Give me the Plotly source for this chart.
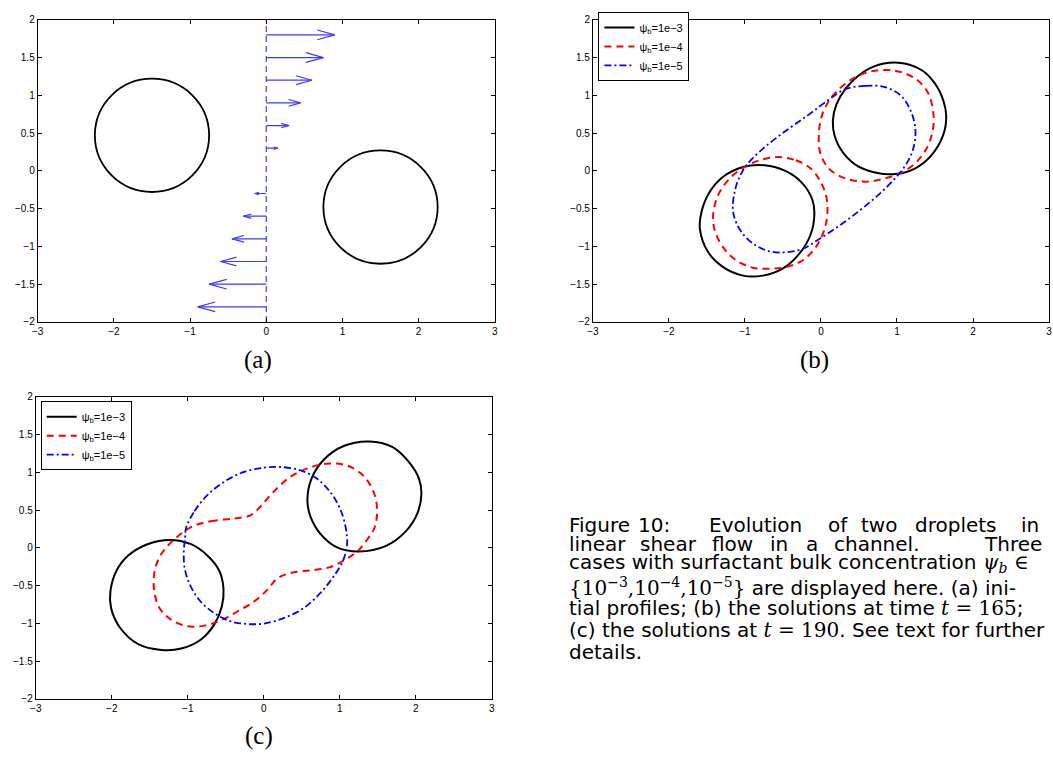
import plotly.graph_objects as go

W, H = 1053, 761

# ---------------- data ----------------
# (a) initial droplets (circles): centres and radii
a_cx = [-1.5, 1.5]
a_cy = [0.47, -0.48]
a_r = [0.75, 0.75]
# (a) linear shear velocity profile (quiver): heights and velocities
q_y = [1.8, 1.5, 1.2, 0.9, 0.6, 0.3, -0.3, -0.6, -0.9, -1.2, -1.5, -1.8]
q_u = [0.9, 0.75, 0.6, 0.45, 0.3, 0.15, -0.15, -0.3, -0.45, -0.6, -0.75, -0.9]

series_names = ["ψ<sub>b</sub>=1e−3", "ψ<sub>b</sub>=1e−4", "ψ<sub>b</sub>=1e−5"]

# (b) t = 165 : psi_b = 1e-3 (two droplets)
b1_up_x = [1.017, 1.322, 1.496, 1.610, 1.648, 1.610, 1.452, 1.235, 0.974, 0.713, 0.452, 0.256, 0.161, 0.170, 0.256, 0.430, 0.691]
b1_up_y = [1.431, 1.335, 1.161, 0.930, 0.726, 0.480, 0.205, 0.031, -0.043, -0.021, 0.083, 0.292, 0.553, 0.770, 0.987, 1.205, 1.379]
b1_lo_x = [-0.744, -0.461, -0.244, -0.113, -0.087, -0.135, -0.287, -0.505, -0.765, -1.026, -1.287, -1.483, -1.592, -1.570, -1.461, -1.287, -1.026]
b1_lo_y = [0.074, -0.004, -0.165, -0.382, -0.578, -0.839, -1.100, -1.295, -1.387, -1.387, -1.274, -1.078, -0.774, -0.535, -0.274, -0.078, 0.052]
# (b) psi_b = 1e-4 (two droplets)
b2_up_x = [0.713, 0.974, 1.235, 1.409, 1.482, 1.465, 1.387, 1.235, 1.061, 0.843, 0.583, 0.322, 0.104, -0.013, -0.026, 0.017, 0.148, 0.343, 0.517]
b2_up_y = [1.326, 1.326, 1.226, 1.031, 0.726, 0.509, 0.292, 0.096, -0.021, -0.100, -0.143, -0.100, 0.031, 0.248, 0.509, 0.748, 0.987, 1.170, 1.270]
b2_lo_x = [-0.570, -0.331, -0.135, -0.005, 0.074, 0.083, 0.039, -0.070, -0.244, -0.461, -0.678, -0.896, -1.113, -1.287, -1.396, -1.418, -1.352, -1.200, -1.004, -0.809]
b2_lo_y = [0.183, 0.140, 0.031, -0.143, -0.361, -0.578, -0.795, -1.013, -1.187, -1.274, -1.295, -1.282, -1.187, -1.013, -0.795, -0.578, -0.317, -0.100, 0.052, 0.140]
# (b) psi_b = 1e-5 (merged droplet)
b3_x = [0.322, 0.583, 0.843, 1.061, 1.191, 1.243, 1.213, 1.126, 0.974, 0.756, 0.496, 0.235, -0.026, -0.244, -0.461, -0.678, -0.896, -1.070, -1.157, -1.135, -1.070, -0.974, -0.765, -0.461, -0.157, 0.104]
b3_y = [1.083, 1.126, 1.109, 0.987, 0.770, 0.531, 0.292, 0.096, -0.100, -0.317, -0.535, -0.730, -0.904, -1.034, -1.078, -1.065, -0.961, -0.774, -0.535, -0.274, -0.078, 0.083, 0.292, 0.531, 0.748, 0.944]

# (c) t = 190 : psi_b = 1e-3 (two droplets)
c1_up_x = [1.391, 1.690, 1.905, 2.040, 2.074, 2.022, 1.870, 1.609, 1.252, 0.957, 0.745, 0.612, 0.574, 0.628, 0.783, 1.043]
c1_up_y = [1.408, 1.335, 1.140, 0.920, 0.721, 0.460, 0.221, 0.026, -0.048, 0.010, 0.185, 0.420, 0.634, 0.917, 1.160, 1.345]
c1_lo_x = [-1.239, -0.957, -0.739, -0.587, -0.530, -0.552, -0.652, -0.826, -1.087, -1.348, -1.652, -1.891, -2.009, -2.018, -1.935, -1.783, -1.522]
c1_lo_y = [0.105, 0.048, -0.104, -0.300, -0.539, -0.778, -1.017, -1.213, -1.334, -1.352, -1.275, -1.058, -0.797, -0.580, -0.298, -0.102, 0.050]
# (c) psi_b = 1e-4 (merged, necked)
c2_x = [-0.957, -0.696, -0.391, -0.174, -0.043, 0.130, 0.348, 0.565, 0.826, 1.087, 1.304, 1.443, 1.491, 1.457, 1.348, 1.239, 1.087, 0.870, 0.609, 0.348, 0.174, 0.043, -0.130, -0.348, -0.565, -0.783, -1.000, -1.217, -1.370, -1.443, -1.435, -1.348, -1.174]
c2_y = [0.274, 0.353, 0.387, 0.431, 0.548, 0.744, 0.940, 1.048, 1.113, 1.092, 0.961, 0.744, 0.505, 0.266, 0.092, -0.039, -0.147, -0.256, -0.300, -0.334, -0.408, -0.560, -0.713, -0.843, -0.960, -1.030, -1.039, -0.952, -0.800, -0.560, -0.300, -0.082, 0.114]
# (c) psi_b = 1e-5 (merged)
c3_x = [-1.022, -0.913, -0.739, -0.522, -0.261, 0.000, 0.217, 0.478, 0.696, 0.870, 1.000, 1.078, 1.096, 1.043, 0.913, 0.739, 0.522, 0.261, 0.000, -0.217, -0.435, -0.652, -0.848, -0.978, -1.043, -1.052, -1.035]
c3_y = [0.266, 0.483, 0.700, 0.874, 1.005, 1.061, 1.070, 1.027, 0.918, 0.744, 0.527, 0.266, 0.048, -0.169, -0.387, -0.604, -0.800, -0.930, -1.004, -1.008, -0.973, -0.865, -0.691, -0.474, -0.256, -0.039, 0.135]

x_ticks = [-3, -2, -1, 0, 1, 2, 3]
y_ticks = [-2, -1.5, -1, -0.5, 0, 0.5, 1, 1.5, 2]

# ---------------- helpers ----------------
def px(X):
    return X / W

def py(Y):
    return 1 - Y / H

def closed(*parts):
    xs, ys = [], []
    for (x, y) in parts:
        xs += list(x) + [x[0], None]
        ys += list(y) + [y[0], None]
    return xs[:-1], ys[:-1]

styles = [
    dict(color="black", width=2),
    dict(color="rgb(255,0,0)", width=2, dash="7px,5px"),
    dict(color="rgb(0,0,255)", width=1.8, dash="7px,3px,2px,3px"),
]

fig = go.Figure()

# ---------------- panel (a) ----------------
fig.add_trace(go.Scatter(x=[0, 0], y=[-2, 2], mode="lines", xaxis="x", yaxis="y",
                         line=dict(color="rgb(60,60,255)", width=1.2, dash="6px,4px"),
                         showlegend=False, hoverinfo="skip"))
sx, sy, hx, hy = [], [], [], []
for y, u in zip(q_y, q_u):
    sx += [0, u, None]
    sy += [y, y, None]
    s = 1 if u > 0 else -1
    hl = min(0.35 * abs(u), 0.23)
    hw = 0.28 * hl
    hx += [u - s * hl, u, u - s * hl, None]
    hy += [y + hw, y, y - hw, None]
fig.add_trace(go.Scatter(x=sx, y=sy, mode="lines", xaxis="x", yaxis="y",
                         line=dict(color="rgb(60,60,255)", width=1.2),
                         showlegend=False, hoverinfo="skip"))
fig.add_trace(go.Scatter(x=hx, y=hy, mode="lines", xaxis="x", yaxis="y",
                         line=dict(color="rgb(60,60,255)", width=1.2),
                         showlegend=False, hoverinfo="skip"))
for cx, cy, r in zip(a_cx, a_cy, a_r):
    fig.add_shape(type="circle", xref="x", yref="y", x0=cx - r, x1=cx + r, y0=cy - r, y1=cy + r,
                  line=dict(color="black", width=1.8))

# ---------------- panel (b) ----------------
b_series = [
    closed((b1_up_x, b1_up_y), (b1_lo_x, b1_lo_y)),
    closed((b2_up_x, b2_up_y), (b2_lo_x, b2_lo_y)),
    closed((b3_x, b3_y)),
]
for (xs, ys), name, st in zip(b_series, series_names, styles):
    fig.add_trace(go.Scatter(x=xs, y=ys, mode="lines", name=name, xaxis="x2", yaxis="y2",
                             line=dict(shape="spline", smoothing=1, **st), legend="legend",
                             hoverinfo="skip"))

# ---------------- panel (c) ----------------
c_series = [
    closed((c1_up_x, c1_up_y), (c1_lo_x, c1_lo_y)),
    closed((c2_x, c2_y)),
    closed((c3_x, c3_y)),
]
for (xs, ys), name, st in zip(c_series, series_names, styles):
    fig.add_trace(go.Scatter(x=xs, y=ys, mode="lines", name=name, xaxis="x3", yaxis="y3",
                             line=dict(shape="spline", smoothing=1, **st), legend="legend2",
                             hoverinfo="skip"))

tickfont = dict(family="Liberation Sans, Arial, sans-serif", size=10, color="black")

def xaxis(domain, anchor):
    return dict(domain=domain, anchor=anchor, range=[x_ticks[0], x_ticks[-1]], tickvals=x_ticks,
                showgrid=False, zeroline=False, showline=True, linecolor="black", linewidth=1,
                mirror="ticks", ticks="inside", ticklen=4, tickcolor="black", tickfont=tickfont,
                fixedrange=True)

def yaxis(domain, anchor):
    return dict(domain=domain, anchor=anchor, range=[y_ticks[0], y_ticks[-1]], tickvals=y_ticks,
                showgrid=False, zeroline=False, showline=True, linecolor="black", linewidth=1,
                mirror="ticks", ticks="inside", ticklen=4, tickcolor="black", tickfont=tickfont,
                fixedrange=True)

top_dom = [py(321), py(14)]
bot_dom = [py(704), py(397)]

legend_style = dict(bgcolor="white", bordercolor="black", borderwidth=1,
                    font=dict(family="Liberation Sans, Arial, sans-serif", size=11, color="black"),
                    itemwidth=30, tracegroupgap=0, xanchor="left", yanchor="top",
                    itemclick=False, itemdoubleclick=False)

fig.update_layout(
    width=W, height=H, autosize=False,
    margin=dict(l=0, r=0, t=0, b=0),
    paper_bgcolor="white", plot_bgcolor="white",
    xaxis=xaxis([px(32), px(493)], "y"),
    yaxis=yaxis(top_dom, "x"),
    xaxis2=xaxis([px(592), px(1052)], "y2"),
    yaxis2=yaxis(top_dom, "x2"),
    xaxis3=xaxis([px(30), px(490)], "y3"),
    yaxis3=yaxis(bot_dom, "x3"),
    legend=dict(x=px(597.5), y=py(6), **legend_style),
    legend2=dict(x=px(35), y=py(401.5), **legend_style),
)

# panel labels
label_font = dict(family="Liberation Serif, Times New Roman, serif", size=25, color="black")
for txt, X, Y in [("(a)", 254, 360), ("(b)", 815, 360), ("(c)", 255, 742)]:
    fig.add_annotation(text=txt, x=px(X), y=py(Y), xref="paper", yref="paper",
                       xanchor="center", yanchor="middle", showarrow=False, font=label_font)

# caption
cap_font = dict(family="DejaVu Sans, sans-serif", size=20, color="black")
serif = "font-family:DejaVu Serif"
words_l1 = [("Figure", 566), ("10:", 635), ("Evolution", 706.7), ("of", 826.7), ("two", 860),
            ("droplets", 915), ("in", 1021.7)]
words_l2 = [("linear", 566), ("shear", 637), ("flow", 710), ("in", 769), ("a", 805),
            ("channel.", 833), ("Three", 984)]
for words, Y in [(words_l1, 527), (words_l2, 546.5)]:
    for w, X in words:
        fig.add_annotation(text=w, x=px(X), y=py(Y), xref="paper", yref="paper",
                           xanchor="left", yanchor="middle", showarrow=False, font=cap_font)
lines = [
    ("cases with surfactant bulk concentration <span style='%s'><i>ψ<sub>b</sub></i> ∈</span>" % serif, 566),
    ("<span style='%s'>{10<sup>−3</sup>,10<sup>−4</sup>,10<sup>−5</sup>}</span> are displayed here. (a) ini-" % serif, 590),
    ("tial profiles; (b) the solutions at time <span style='%s'><i>t</i> = 165</span>;" % serif, 612),
    ("(c) the solutions at <span style='%s'><i>t</i> = 190</span>. See text for further" % serif, 634),
    ("details.", 656),
]
for txt, Y in lines:
    fig.add_annotation(text=txt, x=px(566), y=py(Y), xref="paper", yref="paper",
                       xanchor="left", yanchor="middle", showarrow=False, font=cap_font)

fig.write_html("out.html", config={"displayModeBar": False},
               post_script="document.body.style.margin='0px';document.body.style.overflow='hidden';")
